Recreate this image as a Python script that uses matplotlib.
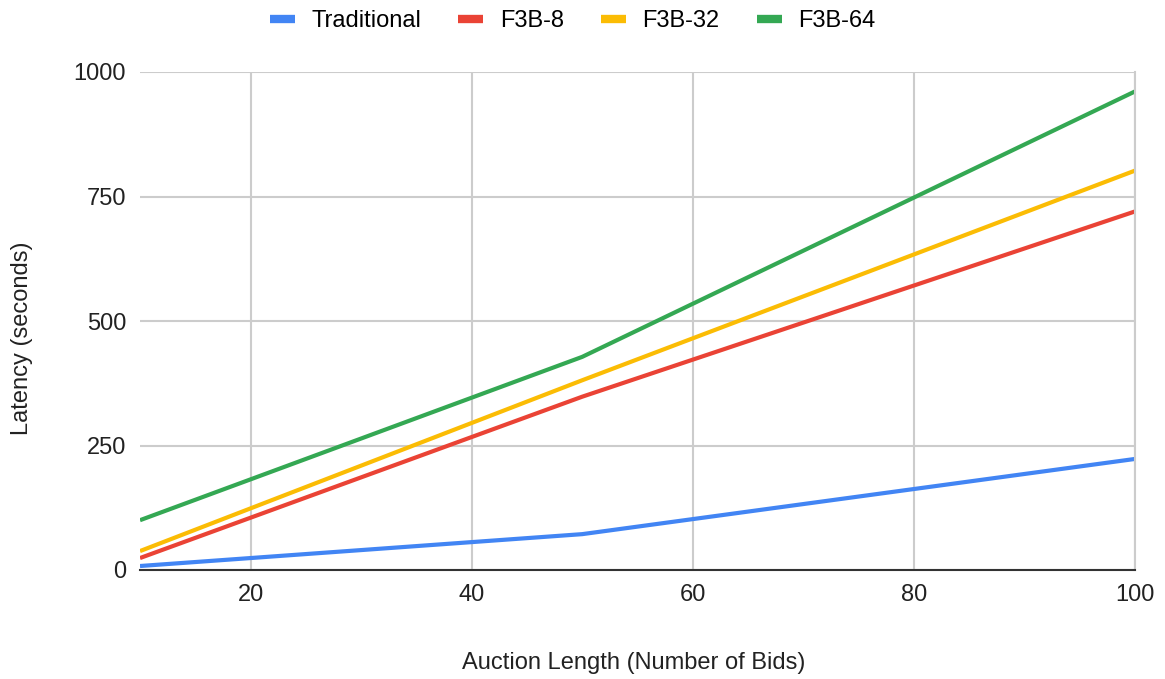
import numpy as np
import matplotlib.pyplot as plt

plt.rcParams['font.family'] = ['Liberation Sans', 'DejaVu Sans']

bids = [10, 50, 100]
traditional = [8, 72, 223]
f3b_8 = [24, 348, 720]
f3b_32 = [38, 381, 802]
f3b_64 = [100, 428, 961]

series = [('Traditional', traditional, '#4285F4'),
          ('F3B-8', f3b_8, '#EA4335'),
          ('F3B-32', f3b_32, '#FBBC04'),
          ('F3B-64', f3b_64, '#34A853')]

fig = plt.figure(figsize=(11.65, 6.79), dpi=100)
ax = fig.add_axes([140/1165, 1-570/679, 995/1165, 498/679])

for name, vals, col in series:
    ax.plot(bids, vals, color=col, lw=3, label=name, solid_capstyle='butt')

ax.set_xlim(10, 100)
ax.set_ylim(0, 1000)
ax.set_xticks([20, 40, 60, 80, 100])
ax.set_yticks([0, 250, 500, 750, 1000])
ax.grid(True, color='#cccccc', lw=1.5)
ax.set_axisbelow(True)
for s in ['top', 'left']:
    ax.spines[s].set_visible(False)
ax.spines['right'].set_color('#cccccc')
ax.spines['right'].set_linewidth(1.5)
ax.spines['bottom'].set_color('#333333')
ax.spines['bottom'].set_linewidth(1.5)
ax.tick_params(length=0, labelsize=17, colors='#222222', pad=10)
ax.set_xlabel('Auction Length (Number of Bids)', fontsize=17, color='#222222')
ax.set_ylabel('Latency (seconds)', fontsize=17, color='#222222')
ax.xaxis.set_label_coords(0.4965, -0.165)
ax.yaxis.set_label_coords(-0.1075, 0.466)

fig.legend(*ax.get_legend_handles_labels(), loc='center', bbox_to_anchor=(0.4914, 1-21/679),
           ncol=4, frameon=False, fontsize=17, handlelength=1.06, handletextpad=0.7,
           columnspacing=1.57)
for line in fig.legends[0].get_lines():
    line.set_linewidth(6)

plt.savefig('out.png', dpi=100)
